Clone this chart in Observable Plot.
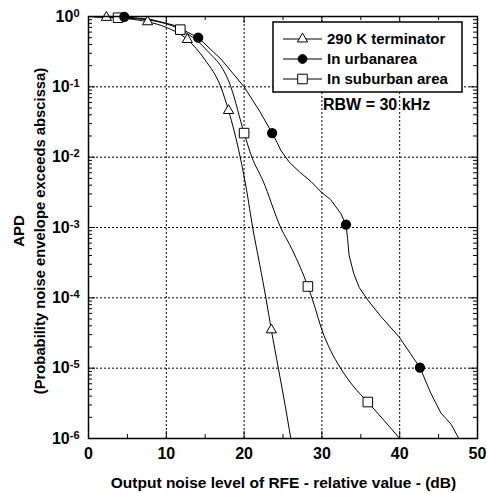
<!DOCTYPE html>
<html><head><meta charset="utf-8">
<script src="https://cdn.jsdelivr.net/npm/d3@7"></script>
<script src="https://cdn.jsdelivr.net/npm/@observablehq/plot@0.6"></script>
<style>body{margin:0;background:#fff}</style>
</head><body><div id="chart"></div>
<script>
// ---- data ----
const seriesNames = ["290 K terminator", "In urbanarea", "In suburban area"];
const noteText = "RBW = 30 kHz";
const xTitle = "Output noise level of RFE - relative value - (dB)";
const yTitle1 = "APD";
const yTitle2 = "(Probability noise envelope exceeds abscissa)";

// 290 K terminator
const termX = [0, 2.3, 5, 7.6, 10, 12.7, 15, 17.0, 18.0, 19.5, 20.3, 21.1, 22.0, 22.8, 23.5, 24.4, 25.2, 26.0];
const termY = [1.0, 0.97, 0.93, 0.84, 0.70, 0.47, 0.24, 0.1, 0.046, 0.01, 0.0035, 0.001, 0.0003, 0.0001, 0.000035, 0.00001, 0.0000033, 0.000001];
const termMarkX = [2.3, 7.6, 12.7, 18.0, 23.5];
const termMarkY = [0.97, 0.84, 0.47, 0.046, 0.000035];

// In urban area
const urbX = [0, 4.6, 8, 11, 14.1, 17, 20.0, 22, 23.6, 24.1, 24.7, 25.8, 27.1, 28.6, 29.9, 31.1, 32.4, 33.1, 33.3, 33.5, 34.1, 34.8, 35.9, 37.6, 39.9, 41.4, 42.6, 44.0, 45.3, 46.6, 47.6];
const urbY = [1, 0.99, 0.91, 0.75, 0.5, 0.25, 0.1, 0.045, 0.022, 0.0174, 0.0126, 0.0085, 0.0062, 0.0045, 0.0032, 0.0025, 0.0016, 0.0011, 0.0007, 0.0004, 0.00022, 0.00014, 0.000093, 0.000054, 0.000028, 0.000016, 0.0000102, 0.0000044, 0.0000023, 0.0000016, 0.000001];
const urbMarkX = [4.6, 14.1, 23.6, 33.1, 42.6];
const urbMarkY = [0.99, 0.5, 0.022, 0.0011, 0.0000102];

// In suburban area
const subX = [0, 3.8, 8, 11.8, 15, 18.3, 20.0, 21.0, 22.4, 24.7, 26.2, 28.2, 29.0, 30.0, 31.1, 32.4, 34.0, 35.9, 38.0, 40.0];
const subY = [1, 0.96, 0.88, 0.65, 0.35, 0.1, 0.022, 0.01, 0.0047, 0.001, 0.00048, 0.000145, 0.00008, 0.000035, 0.000018, 0.00001, 0.0000056, 0.0000033, 0.0000018, 0.000001];
const subMarkX = [3.8, 11.8, 20.0, 28.2, 35.9];
const subMarkY = [0.96, 0.65, 0.022, 0.000145, 0.0000033];

const xTicks = [0, 10, 20, 30, 40, 50];
const xMinorTicks = [5, 15, 25, 35, 45];
const yTicks = [1, 0.1, 0.01, 0.001, 0.0001, 0.00001, 0.000001];
const yTickExp = ["0", "-1", "-2", "-3", "-4", "-5", "-6"];

// ---- build ----
const W = 487, H = 493, mL = 88, mR = 10, mT = 16, mB = 55;
const pW = W - mL - mR, pH = H - mT - mB;
const toPts = (xs, ys) => xs.map((x, i) => ({x, y: ys[i]}));
const term = toPts(termX, termY), urb = toPts(urbX, urbY), sub = toPts(subX, subY);
const termM = toPts(termMarkX, termMarkY), urbM = toPts(urbMarkX, urbMarkY), subM = toPts(subMarkX, subMarkY);
const yMinor = [];
for (let e = -6; e < 0; e++) for (let m = 2; m <= 9; m++) yMinor.push(m * Math.pow(10, e));

const FONT = "'Liberation Sans', Arial, Helvetica, sans-serif";
const rTri = 3.8, rCirc = 4.4, rSq = 5.4;

const plot = Plot.plot({
  width: W, height: H,
  marginLeft: mL, marginRight: mR, marginTop: mT, marginBottom: mB,
  style: {fontFamily: FONT, fontWeight: "bold", background: "white", color: "black", overflow: "visible"},
  x: {domain: [0, 50], label: null},
  y: {type: "log", domain: [1e-6, 1], label: null},
  marks: [
    Plot.ruleX(xTicks.slice(1, -1), {x: d => d, stroke: "black", strokeWidth: 1, strokeDasharray: "2,2"}),
    Plot.ruleY(yTicks.slice(1, -1), {y: d => d, stroke: "black", strokeWidth: 1, strokeDasharray: "2,2"}),
    // inward ticks, bottom & top
    Plot.tickX(xTicks, {x: d => d, insetTop: pH - 7, stroke: "black"}),
    Plot.tickX(xTicks, {x: d => d, insetBottom: pH - 7, stroke: "black"}),
    Plot.tickX(xMinorTicks, {x: d => d, insetTop: pH - 4, stroke: "black"}),
    Plot.tickX(xMinorTicks, {x: d => d, insetBottom: pH - 4, stroke: "black"}),
    // inward ticks, left & right
    Plot.tickY(yTicks, {y: d => d, insetRight: pW - 7, stroke: "black"}),
    Plot.tickY(yTicks, {y: d => d, insetLeft: pW - 7, stroke: "black"}),
    Plot.tickY(yMinor, {y: d => d, insetRight: pW - 4, stroke: "black"}),
    Plot.tickY(yMinor, {y: d => d, insetLeft: pW - 4, stroke: "black"}),
    // curves
    Plot.line(term, {x: "x", y: "y", stroke: "black", strokeWidth: 1, curve: "monotone-x"}),
    Plot.line(sub, {x: "x", y: "y", stroke: "black", strokeWidth: 1, curve: "monotone-x"}),
    Plot.line(urb, {x: "x", y: "y", stroke: "black", strokeWidth: 1, curve: "linear"}),
    Plot.dot(termM, {x: "x", y: "y", symbol: "triangle", r: rTri, fill: "white", stroke: "black", strokeWidth: 1}),
    Plot.dot(subM, {x: "x", y: "y", symbol: "square", r: rSq, fill: "white", stroke: "black", strokeWidth: 1}),
    Plot.dot(urbM, {x: "x", y: "y", symbol: "circle", r: rCirc, fill: "black", stroke: "black"}),
    Plot.frame({stroke: "black", strokeWidth: 1.5}),
    // axes
    Plot.axisX({ticks: xTicks, tickSize: 0, tickPadding: 9, fontSize: 16, fontWeight: "bold", label: null}),
    Plot.axisY({ticks: yTicks, tickSize: 0, tickPadding: 9, fontSize: 16, fontWeight: "bold", label: null,
      tickFormat: d => "10^" + yTickExp[yTicks.indexOf(d)]})
  ]
});

const svg = d3.select(plot);

// superscripts on y tick labels
svg.selectAll('g[aria-label="y-axis tick label"] text').each(function() {
  const t = d3.select(this);
  const s = t.text();
  if (!s.includes("^")) return;
  const [base, exp] = s.split("^");
  t.text("");
  t.append("tspan").text(base);
  t.append("tspan").attr("dy", "-0.45em").attr("font-size", "11px").text(exp);
});

// titles
const tg = svg.append("g").attr("font-family", FONT).attr("font-weight", "bold").attr("fill", "black").attr("text-anchor", "middle");
tg.append("text").attr("x", mL + pW / 2 + 1).attr("y", 482.5).attr("dy", "0.36em").attr("font-size", 15.5).text(xTitle);
tg.append("text").attr("transform", `translate(19,231) rotate(-90)`).attr("dy", "0.36em").attr("font-size", 15).text(yTitle1);
tg.append("text").attr("transform", `translate(40,231) rotate(-90)`).attr("dy", "0.36em").attr("font-size", 14.8).text(yTitle2);

// legend
const lg = svg.append("g").attr("font-family", FONT).attr("font-weight", "bold").attr("text-anchor", "start").attr("fill", "black");
lg.append("rect").attr("x", 273).attr("y", 22).attr("width", 189).attr("height", 70)
  .attr("fill", "white").attr("stroke", "black").attr("stroke-width", 1.5);
const legSymbols = [
  {type: d3.symbolTriangle, r: rTri, fill: "white"},
  {type: d3.symbolCircle, r: rCirc, fill: "black"},
  {type: d3.symbolSquare, r: rSq, fill: "white"}
];
seriesNames.forEach((name, i) => {
  const cy = 39 + i * 20;
  lg.append("line").attr("x1", 283).attr("x2", 322).attr("y1", cy).attr("y2", cy).attr("stroke", "black").attr("stroke-width", 1);
  const sdef = legSymbols[i];
  lg.append("path").attr("d", d3.symbol().type(sdef.type).size(sdef.r * sdef.r * Math.PI)())
    .attr("transform", `translate(302.5,${cy})`).attr("fill", sdef.fill).attr("stroke", "black").attr("stroke-width", 1);
  lg.append("text").attr("x", 327).attr("y", cy).attr("dy", "0.36em").attr("font-size", 15).text(name);
});
lg.append("text").attr("x", 323).attr("y", 110).attr("font-size", 16).text(noteText);

document.getElementById("chart").appendChild(plot);
</script>
</body></html>
